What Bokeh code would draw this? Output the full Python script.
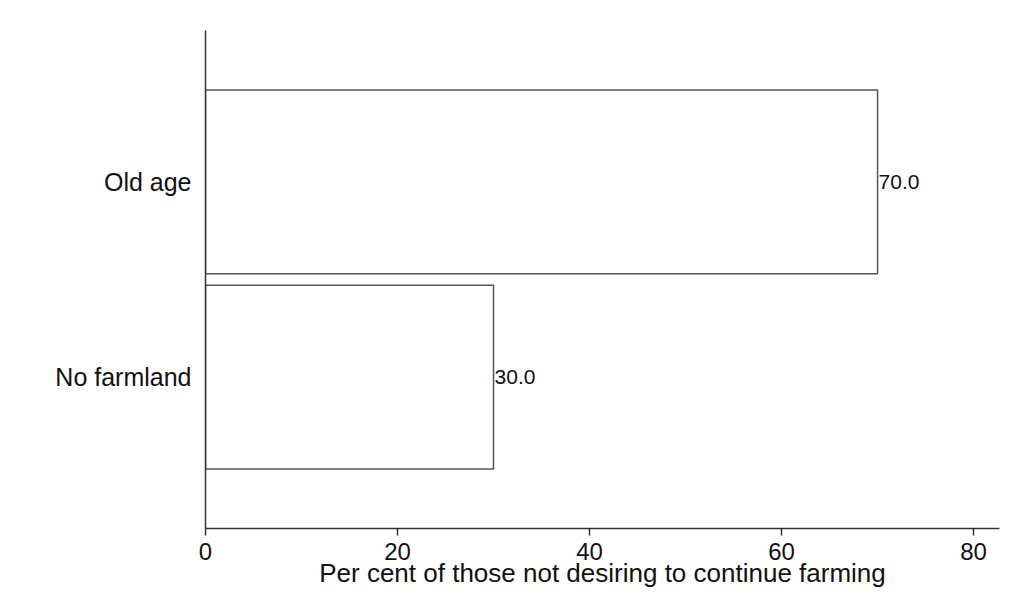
from bokeh.plotting import figure
from bokeh.models import Range1d, FixedTicker, ColumnDataSource
from bokeh.core.properties import value
from bokeh.embed import file_html
from bokeh.resources import INLINE

categories = ["No farmland", "Old age"]
percents = [30.0, 70.0]
x_ticks = [0, 20, 40, 60, 80]

ypos = list(range(1, len(categories) + 1))
src = ColumnDataSource(dict(
    y=ypos,
    pct=percents,
    lbl=["%.1f" % v for v in percents],
))

FONT = "Liberation Sans"

p = figure(width=1003, height=595, output_backend="svg", toolbar_location=None,
           x_range=Range1d(0, 82.7), y_range=Range1d(0.225, 2.775),
           min_border_left=205, min_border_right=4, min_border_top=30, min_border_bottom=67)

p.hbar(y="y", right="pct", left=0, height=0.941, source=src,
       fill_color="white", line_color="#555555", line_width=1.5)
p.text(x="pct", y="y", text="lbl", source=src, x_offset=1,
       text_align="left", text_baseline="middle", text_font=value(FONT),
       text_font_size="21px", text_color="#111111")

p.grid.visible = False
p.outline_line_color = None
p.background_fill_color = "white"
p.border_fill_color = "white"

xa = p.xaxis[0]
xa.ticker = FixedTicker(ticks=x_ticks)
xa.minor_tick_line_color = None
xa.major_tick_out = 7
xa.major_tick_in = 0
xa.axis_line_color = "#333333"
xa.axis_line_width = 1.5
xa.major_tick_line_color = "#333333"
xa.major_tick_line_width = 1.5
xa.major_label_text_font = FONT
xa.major_label_text_font_size = "24px"
xa.major_label_text_color = "#111111"
xa.major_label_standoff = 7
xa.axis_label = "Per cent of those not desiring to continue farming"
xa.axis_label_text_font = FONT
xa.axis_label_text_font_size = "26px"
xa.axis_label_text_font_style = "normal"
xa.axis_label_text_color = "#111111"
xa.axis_label_standoff = -5

ya = p.yaxis[0]
ya.ticker = FixedTicker(ticks=ypos)
ya.major_label_overrides = {i: c for i, c in zip(ypos, categories)}
ya.minor_tick_line_color = None
ya.major_tick_line_color = None
ya.axis_line_color = "#333333"
ya.axis_line_width = 1.5
ya.major_label_text_font = FONT
ya.major_label_text_font_size = "25px"
ya.major_label_text_color = "#111111"
ya.major_label_standoff = 8

open("out.html", "w").write(file_html(p, INLINE))
